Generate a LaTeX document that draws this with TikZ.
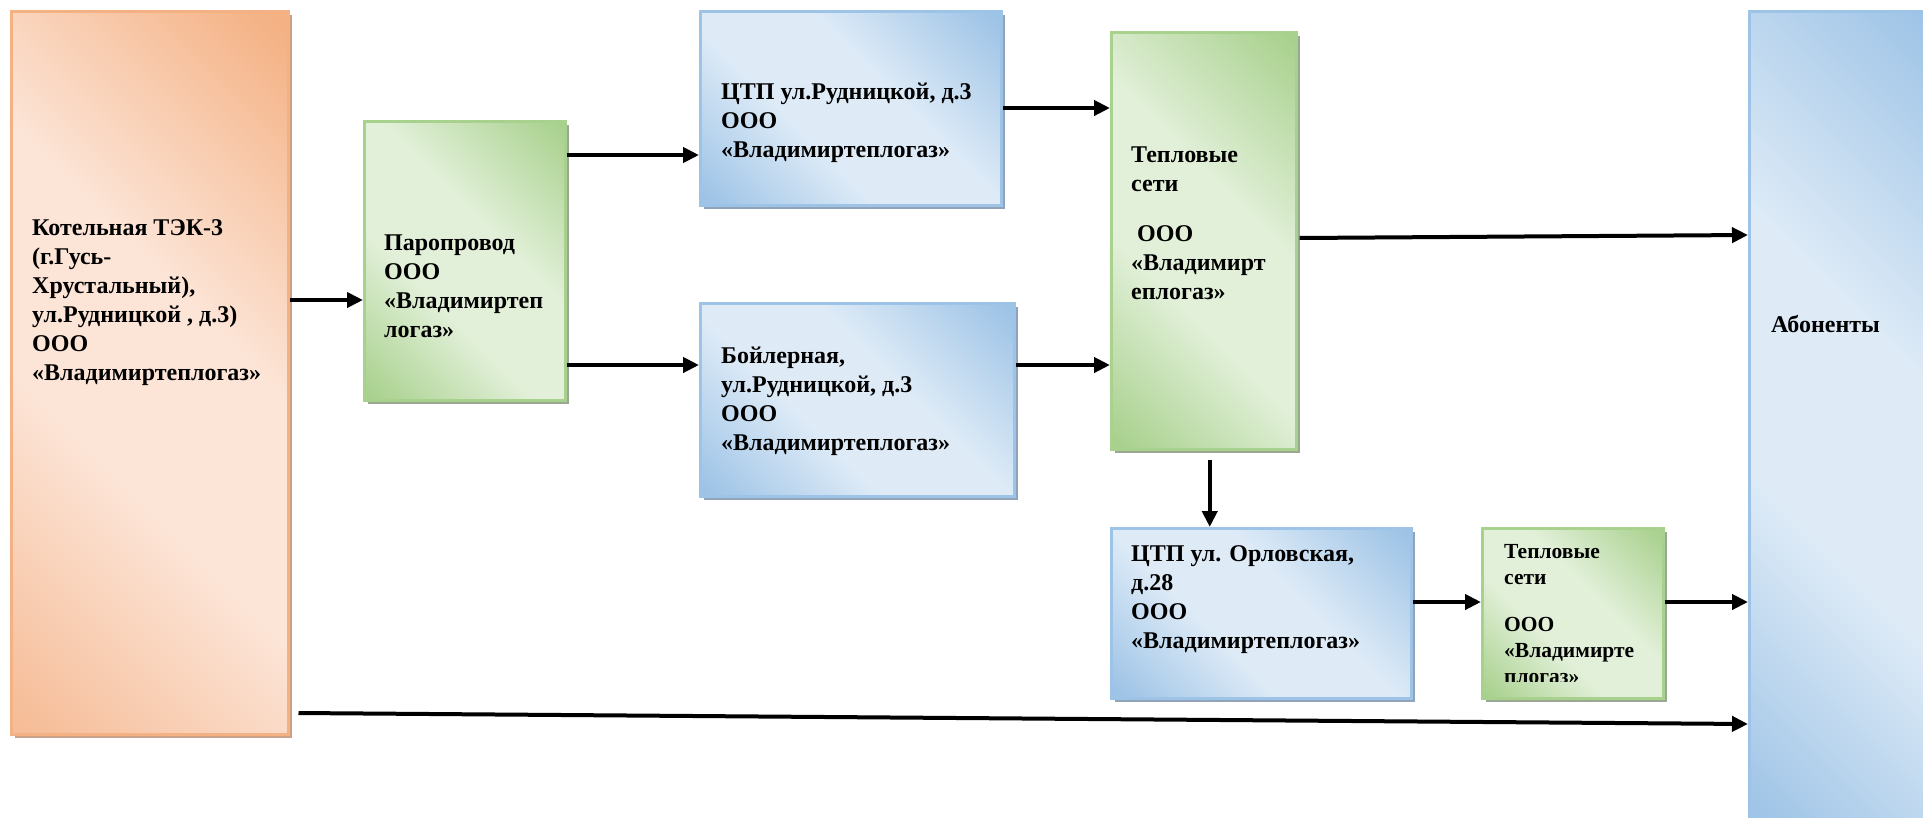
\documentclass[tikz,border=0pt]{standalone}
\usepackage{fontspec}
\setmainfont{Liberation Serif}
\usetikzlibrary{arrows.meta,shadows}

\definecolor{orD}{HTML}{F4B183}
\definecolor{orM}{HTML}{F6BD98}
\definecolor{orL}{HTML}{FCE4D6}
\definecolor{grD}{HTML}{A9D18E}
\definecolor{grL}{HTML}{E2F0D9}
\definecolor{blD}{HTML}{9DC3E6}
\definecolor{blL}{HTML}{DEEBF7}
\definecolor{orS}{HTML}{C9A189}
\definecolor{grS}{HTML}{9AA893}
\definecolor{blS}{HTML}{90A3B8}

\pgfdeclarehorizontalshading{orsh}{100bp}{color(0bp)=(orM); color(16bp)=(orM); color(40bp)=(orL); color(58bp)=(orL); color(84bp)=(orD); color(100bp)=(orD)}
\pgfdeclarehorizontalshading{grsh}{100bp}{color(0bp)=(grD); color(16bp)=(grD); color(40bp)=(grL); color(58bp)=(grL); color(84bp)=(grD); color(100bp)=(grD)}
\pgfdeclarehorizontalshading{blsh}{100bp}{color(0bp)=(blD); color(16bp)=(blD); color(40bp)=(blL); color(58bp)=(blL); color(84bp)=(blD); color(100bp)=(blD)}

\newcommand{\boxtxt}[1]{\begin{tabular}[t]{@{}l@{}}#1\end{tabular}}

\tikzset{
  basebox/.style={rectangle, anchor=north west, inner sep=0pt, line width=2.5pt, shading angle=45},
  obox/.style={basebox, draw=orD, shading=orsh, general shadow={fill=orS, shadow xshift=4pt, shadow yshift=-4pt}},
  gbox/.style={basebox, draw=grD, shading=grsh, general shadow={fill=grS, shadow xshift=4pt, shadow yshift=-4pt}},
  bbox/.style={basebox, draw=blD, shading=blsh, general shadow={fill=blS, shadow xshift=4pt, shadow yshift=-4pt}},
  abox/.style={basebox, draw=blD, shading=blsh},
  txt/.style={anchor=base west, inner sep=0pt, font=\fontsize{24}{29}\selectfont\bfseries},
  stxt/.style={anchor=base west, inner sep=0pt, font=\fontsize{21.5}{26}\selectfont\bfseries},
  arr/.style={-{Triangle[length=16pt,width=15pt]}, line width=4pt, black}
}

\begin{document}
\begin{tikzpicture}[x=1pt,y=-1pt]
\useasboundingbox (0,0) rectangle (1923,817);
\fill[white] (0,0) rectangle (1923,817);

% boxes
\node[obox, minimum width=277pt, minimum height=723pt] (kot) at (10,10) {};
\node[gbox, minimum width=201pt, minimum height=279pt] (par) at (363,120) {};
\node[bbox, minimum width=301pt, minimum height=194pt] (ctp1) at (699,10) {};
\node[bbox, minimum width=314pt, minimum height=193pt] (boil) at (699,302) {};
\node[gbox, minimum width=185pt, minimum height=417pt] (tep) at (1110,31) {};
\node[bbox, minimum width=300pt, minimum height=170pt] (ctp2) at (1110,527) {};
\node[gbox, minimum width=181pt, minimum height=170pt] (tep2) at (1481,527) {};
\node[abox, minimum width=200pt, minimum height=830pt] (ab) at (1748,10) {};

% texts
\node[txt] (t1) at (32,235) {\boxtxt{Котельная ТЭК-3\\(г.Гусь-\\Хрустальный),\\ул.Рудницкой , д.3)\\ООО\\«Владимиртеплогаз»}};
\node[txt] (t2) at (384,250) {\boxtxt{Паропровод\\ООО\\«Владимиртеп\\логаз»}};
\node[txt] (t3) at (721,99) {\boxtxt{ЦТП ул.Рудницкой, д.3\\ООО\\«Владимиртеплогаз»}};
\node[txt] (t4) at (721,363) {\boxtxt{Бойлерная,\\ул.Рудницкой, д.3\\ООО\\«Владимиртеплогаз»}};
\node[txt] (t5) at (1131,162) {\boxtxt{Тепловые\\сети\\[21pt]\hspace{6pt}ООО\\«Владимирт\\еплогаз»}};
\node[txt] (t6) at (1131,561) {\boxtxt{ЦТП ул. Орловская,\\д.28\\ООО\\«Владимиртеплогаз»}};
\begin{scope}
\clip (1481,527) rectangle (1662,681);
\node[stxt] (t7) at (1504,558) {\boxtxt{Тепловые\\сети\\[21pt]ООО\\«Владимирте\\плогаз»}};
\end{scope}
\node[txt] (t8) at (1771,332) {Абоненты};

% connectors
\draw[arr] (kot.east |- 0,300) -- (par.west |- 0,300);
\draw[arr] (par.east |- 0,155) -- (ctp1.west |- 0,155);
\draw[arr] (par.east |- 0,365) -- (boil.west |- 0,365);
\draw[arr] (ctp1.east |- 0,108) -- (tep.west |- 0,108);
\draw[arr] (boil.east |- 0,365) -- (tep.west |- 0,365);
\draw[arr] ([xshift=2pt]tep.east |- 0,238) -- (ab.west |- 0,235);
\draw[arr] ([xshift=6pt,yshift=-9pt]tep.south) -- ([xshift=6pt]tep.south |- ctp2.north);
\draw[arr] (ctp2.east |- 0,602) -- (tep2.west |- 0,602);
\draw[arr] (tep2.east |- 0,602) -- (ab.west |- 0,602);
\draw[arr] ([xshift=9pt]kot.east |- 0,713) -- (ab.west |- 0,724);
\end{tikzpicture}
\end{document}
